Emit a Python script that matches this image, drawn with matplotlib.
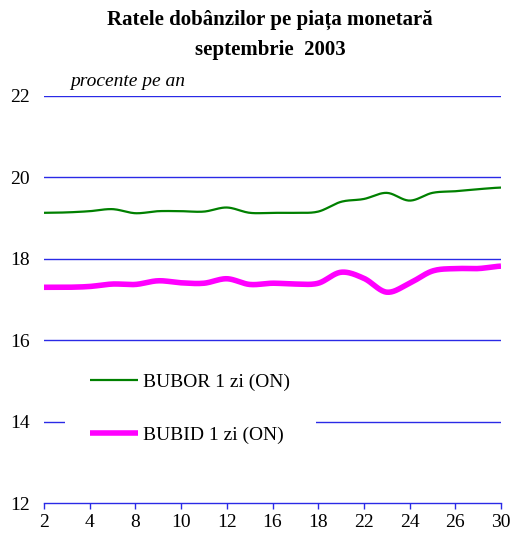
import numpy as np
import matplotlib
matplotlib.use("Agg")
import matplotlib.pyplot as plt

days = [2, 3, 4, 5, 8, 9, 10, 11, 12, 15, 16, 17, 18, 19, 22, 23, 24, 25, 26, 29, 30]
bubor = [19.13, 19.14, 19.17, 19.22, 19.12, 19.17, 19.17, 19.16, 19.26, 19.13, 19.13,
         19.13, 19.16, 19.40, 19.47, 19.62, 19.43, 19.62, 19.66, 19.71, 19.75]
bubid = [17.30, 17.30, 17.32, 17.38, 17.37, 17.46, 17.41, 17.40, 17.51, 17.37, 17.40,
         17.38, 17.40, 17.67, 17.52, 17.18, 17.40, 17.70, 17.76, 17.76, 17.82]
yticks = [12, 14, 16, 18, 20, 22]
title1 = "Ratele dobânzilor pe piața monetară"
title2 = "septembrie  2003"
unit = "procente pe an"
names = ["BUBOR 1 zi (ON)", "BUBID 1 zi (ON)"]


def smooth(y, n=20):
    """Catmull-Rom curve through the given points (rendering only)."""
    y = np.asarray(y, float)
    x = np.arange(len(y), dtype=float)
    px = np.concatenate([[2 * x[0] - x[1]], x, [2 * x[-1] - x[-2]]])
    py = np.concatenate([[y[0]], y, [y[-1]]])
    xs, ys = [], []
    for i in range(1, len(px) - 2):
        t = np.linspace(0, 1, n, endpoint=False)
        for arr, out in ((px, xs), (py, ys)):
            p0, p1, p2, p3 = arr[i - 1], arr[i], arr[i + 1], arr[i + 2]
            out.append(0.5 * ((2 * p1) + (-p0 + p2) * t + (2 * p0 - 5 * p1 + 4 * p2 - p3) * t ** 2
                              + (-p0 + 3 * p1 - 3 * p2 + p3) * t ** 3))
    xs.append([x[-1]]); ys.append([y[-1]])
    return np.concatenate(xs), np.concatenate(ys)


plt.rcParams['font.family'] = ['Liberation Serif', 'DejaVu Serif']

fig = plt.figure(figsize=(5.12, 5.36), dpi=100)
ax = fig.add_axes([44 / 512, 1 - 503 / 536, 457 / 512, 407 / 536])

grid_c = '#2a2ae6'
for v in yticks[1:]:
    ax.axhline(v, color=grid_c, lw=1.0, zorder=1)

gx, gy = smooth(bubor)
mx, my = smooth(bubid)
ax.plot(gx, gy, color='#008000', lw=1.6, label=names[0], zorder=3, solid_capstyle='butt')
ax.plot(mx, my, color='#ff00ff', lw=4.0, label=names[1], zorder=3, solid_capstyle='butt')

ax.set_xlim(0, len(days) - 1)
ax.set_ylim(12, 22)
ax.set_yticks(yticks)
ax.set_yticklabels([str(v) for v in yticks], fontsize=14)
ax.set_xticks(range(0, len(days), 2))
ax.set_xticklabels([str(days[i]) for i in range(0, len(days), 2)], fontsize=14)
for s in ['top', 'right', 'left']:
    ax.spines[s].set_visible(False)
ax.spines['bottom'].set_color(grid_c)
ax.spines['bottom'].set_linewidth(1.0)
ax.tick_params(axis='y', length=0, pad=10)
ax.tick_params(axis='x', length=4, color=grid_c, pad=4, width=1)

leg = ax.legend(loc='upper left', bbox_to_anchor=(65 / 512, 1 - 348 / 536),
                bbox_transform=fig.transFigure, fontsize=14, frameon=True,
                facecolor='white', edgecolor='none', framealpha=1, fancybox=False,
                handlelength=2.47, handletextpad=0.26, labelspacing=1.8, borderpad=1.3,
                borderaxespad=0)
leg.set_zorder(5)

fig.text(270 / 512, 1 - 20 / 536, title1, ha='center', va='center', fontsize=15, fontweight='bold')
fig.text(270 / 512, 1 - 50 / 536, title2, ha='center', va='center', fontsize=15, fontweight='bold')
fig.text(70 / 512, 1 - 82 / 536, unit, ha='left', va='center', fontsize=14, style='italic')

fig.savefig('out.png', dpi=100)
